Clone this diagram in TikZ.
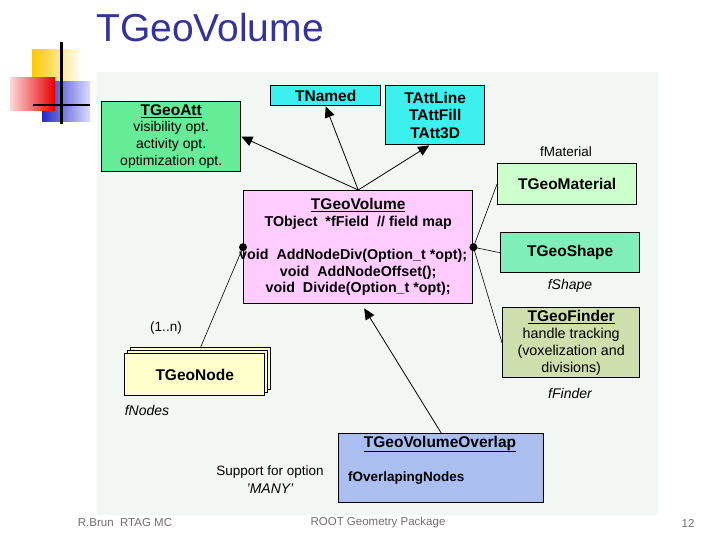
\documentclass[tikz,border=0pt]{standalone}
\usepackage{fontspec}
\setmainfont{Liberation Sans}
\usetikzlibrary{arrows.meta}
\definecolor{titleblue}{RGB}{51,51,153}
\definecolor{panelbg}{RGB}{243,247,243}
\definecolor{attgreen}{RGB}{102,236,150}
\definecolor{cyanbox}{RGB}{60,240,240}
\definecolor{volpink}{RGB}{255,204,255}
\definecolor{matgreen}{RGB}{204,255,204}
\definecolor{shapegreen}{RGB}{128,238,185}
\definecolor{findolive}{RGB}{206,222,172}
\definecolor{nodeyellow}{RGB}{255,255,204}
\definecolor{overblue}{RGB}{170,190,240}
\definecolor{footgray}{RGB}{110,110,110}
\tikzset{
  cls/.style={draw=black, line width=1.4pt, anchor=north west, inner sep=2pt,
    align=center, font=\bfseries\fontsize{15.5}{17.5}\selectfont},
  clsbody/.style={cls, font=\fontsize{14}{17}\selectfont},
  lbl/.style={inner sep=0pt, font=\fontsize{13.5}{16.5}\selectfont},
  ilbl/.style={inner sep=0pt, font=\itshape\fontsize{14}{16.5}\selectfont},
  foot/.style={inner sep=0pt, text=footgray, font=\fontsize{11.5}{13}\selectfont},
  inh/.style={line width=0.8pt, -{Triangle[length=11pt,width=10pt]}},
  assoc/.style={line width=0.6pt},
  dot/.style={circle, fill=black, inner sep=0pt, minimum size=8pt}
}
\newcommand{\ctitle}[1]{\textbf{\fontsize{15.5}{17}\selectfont\underline{#1}}}
\begin{document}
\begin{tikzpicture}[x=1pt,y=-1pt]
\useasboundingbox (0,0) rectangle (720,540);
\fill[white] (0,0) rectangle (720,540);
% logo
\shade[left color={rgb,255:red,255;green,200;blue,0}, right color=white] (32,50) rectangle (82,86);
\shade[left color={rgb,255:red,40;green,40;blue,200}, right color={rgb,255:red,220;green,220;blue,255}] (42,82) rectangle (90,122);
\shade[left color={rgb,255:red,255;green,215;blue,215}, right color={rgb,255:red,230;green,0;blue,0}] (10,78) rectangle (55,111);
\draw[line width=2.2pt] (61.5,42) -- (61.5,124);
\draw[line width=2.2pt] (33,105) -- (90,105);
% title
\node[inner sep=0pt, anchor=base west, text=titleblue, font=\fontsize{39}{44}\selectfont] (title) at (96,42) {TGeoVolume};
% panel
\fill[panelbg] (97,72) rectangle (658,515);
% boxes
\node[clsbody, fill=attgreen, minimum width=139pt, minimum height=70pt] (att) at (101,101)
  {\ctitle{TGeoAtt}\\[-0.5pt] visibility opt.\\ activity opt.\\ optimization opt.};
\node[cls, fill=cyanbox, minimum width=110pt, minimum height=20pt] (named) at (270,85) {TNamed};
\node[cls, fill=cyanbox, minimum width=99pt, minimum height=59pt, font=\bfseries\fontsize{15.5}{17.5}\selectfont] (tatt) at (385,85) {TAttLine\\TAttFill\\TAtt3D};
\node[cls, fill=volpink, minimum width=229pt, minimum height=113pt, font=\bfseries\fontsize{14.3}{16.6}\selectfont] (vol) at (243,190)
  {\ctitle{TGeoVolume}\\ TObject\ \ *fField\ \ // field map\\[16.6pt]
   \hspace*{-10pt}void\ \ AddNodeDiv(Option\_t *opt);\hspace*{-10pt}\\ void\ \ AddNodeOffset();\\ void\ \ Divide(Option\_t *opt);};
\node[cls, fill=matgreen, minimum width=139pt, minimum height=41pt] (mat) at (497,163) {TGeoMaterial};
\node[cls, fill=shapegreen, minimum width=139pt, minimum height=40pt] (shape) at (500,232) {TGeoShape};
\node[clsbody, fill=findolive, minimum width=137pt, minimum height=70pt, font=\fontsize{14.3}{17}\selectfont] (finder) at (502,307)
  {\ctitle{TGeoFinder}\\[-0.5pt] handle tracking\\ (voxelization and\\ divisions)};
\node[cls, fill=nodeyellow, minimum width=140pt, minimum height=42pt] (nodeb) at (130,347) {};
\node[cls, fill=nodeyellow, minimum width=140pt, minimum height=42pt] (nodem) at (127,350) {};
\node[cls, fill=nodeyellow, minimum width=140pt, minimum height=42pt] (node) at (124,353) {TGeoNode};
\node[cls, fill=overblue, minimum width=205pt, minimum height=69pt] (over) at (338,433) {};
\node[inner sep=0pt] (overt) at (440,444) {\ctitle{TGeoVolumeOverlap}};
\node[inner sep=0pt, anchor=west, font=\bfseries\fontsize{13.5}{17}\selectfont] (overf) at (348,478) {fOverlapingNodes};
% labels
\node[lbl] (lmat) at (566,152) {fMaterial};
\node[ilbl] (lshape) at (570,286) {fShape};
\node[ilbl] (lfinder) at (570,393) {fFinder};
\node[lbl] (lmult) at (166,328) {(1..n)};
\node[ilbl] (lnodes) at (147,410) {fNodes};
\node[lbl] (lsup) at (270,472) {Support for option};
\node[ilbl] (lmany) at (270,489) {'MANY'};
% footer
\node[foot] (f1) at (125,523) {R.Brun\ \ RTAG MC};
\node[foot] (f2) at (378,523) {ROOT Geometry Package};
\node[foot] (f3) at (688,523) {12};
% connectors
\draw[inh] (vol.north) -- (att.east);
\draw[inh] (vol.north) -- (named.south);
\draw[inh] (vol.north) -- ([xshift=-6pt]tatt.south);
\draw[inh] (over.north) -- ([xshift=6pt,yshift=-4pt]vol.south);
\draw[assoc] (vol.west) -- (nodeb.north);
\draw[assoc] (vol.east) -- (mat.west);
\draw[assoc] (vol.east) -- (shape.west);
\draw[assoc] (vol.east) -- (finder.west);
\node[dot] (dl) at (vol.west) {};
\node[dot] (dr) at (vol.east) {};
\end{tikzpicture}
\end{document}
